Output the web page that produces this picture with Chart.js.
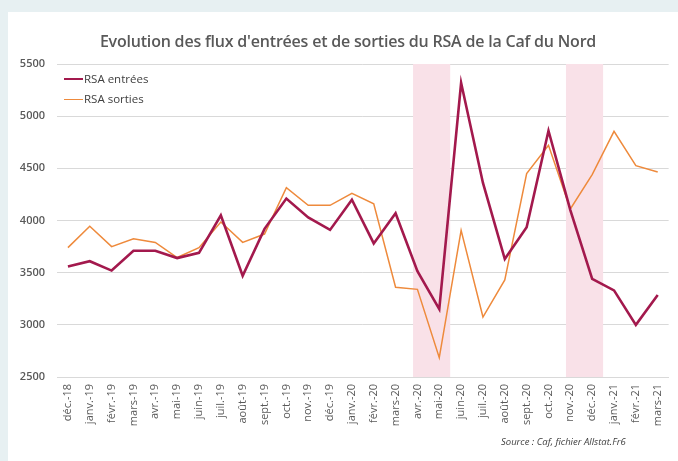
<!DOCTYPE html>
<html lang="fr">
<head>
<meta charset="utf-8">
<title>Flux RSA Caf du Nord</title>
<script src="https://cdn.jsdelivr.net/npm/chart.js@4"></script>
<style>
    html, body {
        margin: 0;
        padding: 0;
        background: #e7f0f2;
    }
    .card {
        position: absolute;
        left: 8px;
        top: 12px;
        width: 670px;
        height: 449px;
        background: #fff;
    }
    #wrap {
        position: absolute;
        left: 0;
        top: 0;
        width: 678px;
        height: 461px;
    }
    .title {
        position: absolute;
        left: 0;
        width: 696px;
        top: 30px;
        text-align: center;
        font-family: "Open Sans", sans-serif;
        font-weight: 600;
        font-size: 16px;
        color: #595959;
        letter-spacing: -0.2px;
    }
    .legend {
        position: absolute;
        left: 64px;
        top: 69px;
        font-family: "Open Sans", sans-serif;
        font-size: 11.5px;
        color: #404040;
    }
    .legend div {
        height: 20px;
        line-height: 16px;
        display: flex;
        align-items: center;
    }
    .legend span.swatch {
        display: inline-block;
        width: 19px;
        margin-right: 1px;
    }
    .source {
        position: absolute;
        left: 501px;
        top: 435px;
        font-family: "Open Sans", sans-serif;
        font-style: italic;
        font-size: 9.5px;
        color: #404040;
    }
</style>
</head>
<body>
<div class="card"></div>
<div id="wrap"><canvas id="rsaChart" width="678" height="461"></canvas></div>
<div class="title">Evolution des flux d'entrées et de sorties du RSA de la Caf du Nord</div>
<div class="legend" id="legend"></div>
<div class="source">Source : Caf, fichier Allstat.Fr6</div>

<script>
// mois (axe des x)
const mois = ['déc.-18', 'janv.-19', 'févr.-19', 'mars-19', 'avr.-19', 'mai-19', 'juin-19', 'juil.-19',
    'août-19', 'sept.-19', 'oct.-19', 'nov.-19', 'déc.-19', 'janv.-20', 'févr.-20', 'mars-20',
    'avr.-20', 'mai-20', 'juin-20', 'juil.-20', 'août-20', 'sept.-20', 'oct.-20', 'nov.-20',
    'déc.-20', 'janv.-21', 'févr.-21', 'mars-21'];

// valeurs
const rsaEntrees = [3560, 3610, 3520, 3710, 3710, 3640, 3690, 4050, 3470, 3920, 4210, 4030, 3910, 4200,
    3780, 4070, 3515, 3150, 5320, 4360, 3630, 3935, 4860, 4100, 3440, 3330, 3000, 3285];
const rsaSorties = [3740, 3945, 3750, 3825, 3790, 3645, 3740, 3985, 3790, 3870, 4315, 4145, 4145, 4260,
    4160, 3360, 3340, 2685, 3905, 3075, 3430, 4450, 4720, 4110, 4440, 4855, 4525, 4465];

// graduations de l'axe des y
const yTicks = [2500, 3000, 3500, 4000, 4500, 5000, 5500];

// périodes de confinement (zones roses)
const confinements = [['avr.-20', 'mai-20'], ['nov.-20', 'déc.-20']];

// plugin qui dessine les zones roses derrière les courbes
const bandesPlugin = {
    id: 'bandes',
    beforeDatasetsDraw(chart) {
        const { ctx, chartArea, scales } = chart;
        const x = scales.x;
        const step = x.getPixelForValue(1) - x.getPixelForValue(0);
        ctx.save();
        ctx.fillStyle = '#f9e1e8';
        confinements.forEach(([debut, fin]) => {
            const x1 = x.getPixelForValue(mois.indexOf(debut)) - step * 0.2;
            const x2 = x.getPixelForValue(mois.indexOf(fin)) + step * 0.5;
            ctx.fillRect(x1, chartArea.top, x2 - x1, chartArea.bottom - chartArea.top);
        });
        ctx.restore();
    }
};

const series = [
    { label: 'RSA entrées', data: rsaEntrees, color: '#a3194d', width: 2.6 },
    { label: 'RSA sorties', data: rsaSorties, color: '#ee8a3c', width: 1.5 }
];

// légende en HTML, en haut à gauche du graphique
const legend = document.getElementById('legend');
series.forEach(s => {
    const row = document.createElement('div');
    const sw = document.createElement('span');
    sw.className = 'swatch';
    sw.style.borderTop = s.width + 'px solid ' + s.color;
    row.appendChild(sw);
    row.appendChild(document.createTextNode(s.label));
    legend.appendChild(row);
});

const ctx = document.getElementById('rsaChart').getContext('2d');
new Chart(ctx, {
    type: 'line',
    data: {
        labels: mois,
        datasets: series.map(s => ({
            label: s.label,
            data: s.data,
            borderColor: s.color,
            backgroundColor: s.color,
            borderWidth: s.width,
            pointRadius: 0,
            tension: 0,
            fill: false
        }))
    },
    options: {
        responsive: false,
        animation: false,
        layout: {
            padding: { top: 64, right: 5, left: 0, bottom: 0 }
        },
        plugins: {
            legend: { display: false },
            title: { display: false },
            tooltip: { enabled: false }
        },
        scales: {
            x: {
                offset: true,
                grid: { display: false, drawTicks: false },
                border: { color: '#d9d9d9' },
                afterFit: scale => { scale.height = 84; },
                ticks: {
                    minRotation: 90,
                    maxRotation: 90,
                    autoSkip: false,
                    padding: 7,
                    color: '#595959',
                    font: { family: '"Open Sans", sans-serif', size: 11 }
                }
            },
            y: {
                min: 2500,
                max: 5500,
                afterFit: scale => { scale.width = 57; },
                afterBuildTicks: scale => { scale.ticks = yTicks.map(v => ({ value: v })); },
                grid: { color: '#d9d9d9', drawTicks: false },
                border: { display: false },
                ticks: {
                    padding: 12,
                    color: '#595959',
                    callback: v => String(v),
                    font: { family: '"Open Sans", sans-serif', size: 11, weight: '600' }
                }
            }
        }
    },
    plugins: [bandesPlugin]
});
</script>
</body>
</html>
